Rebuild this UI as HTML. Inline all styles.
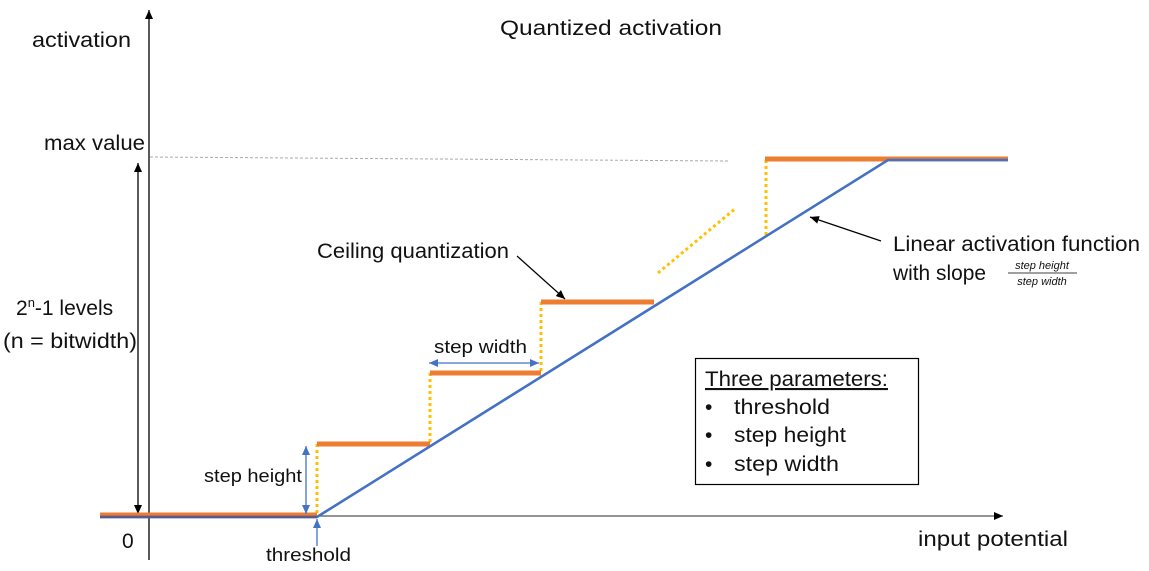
<!DOCTYPE html>
<html><head><meta charset="utf-8"><style>
html,body{margin:0;padding:0;background:#fff;}
svg{display:block;}
text{font-family:"Liberation Sans",sans-serif;fill:#111;}
</style></head><body>
<svg width="1149" height="571" viewBox="0 0 1149 571" xmlns="http://www.w3.org/2000/svg">
<defs>
<marker id="ak" markerWidth="10" markerHeight="10" refX="9" refY="5" orient="auto-start-reverse" markerUnits="userSpaceOnUse"><path d="M0,1 L9,5 L0,9 z" fill="#000"/></marker>
<marker id="ab" markerWidth="10" markerHeight="10" refX="9" refY="5" orient="auto-start-reverse" markerUnits="userSpaceOnUse"><path d="M0,1 L9,5 L0,9 z" fill="#4472c4"/></marker>
</defs>
<line x1="149" y1="560" x2="149" y2="10" stroke="#000" stroke-width="1.3" marker-end="url(#ak)"/>
<line x1="149" y1="516" x2="1003" y2="516" stroke="#555" stroke-width="1.3" marker-end="url(#ak)"/>
<line x1="150" y1="157" x2="728" y2="161" stroke="#aaa" stroke-width="1" stroke-dasharray="3,2"/>
<line x1="138" y1="163" x2="138" y2="514" stroke="#000" stroke-width="1.3" marker-start="url(#ak)" marker-end="url(#ak)"/>
<g stroke="#ffc000" stroke-width="3" stroke-dasharray="3,3">
<line x1="317" y1="444" x2="317" y2="516"/>
<line x1="430" y1="373" x2="430" y2="444"/>
<line x1="541" y1="302" x2="541" y2="373"/>
<line x1="766" y1="160" x2="766" y2="235"/>
<line x1="658" y1="273" x2="736" y2="208"/>
</g>
<g stroke="#ed7d31" stroke-width="5">
<line x1="100" y1="515" x2="317" y2="515"/>
<line x1="317" y1="444" x2="430" y2="444"/>
<line x1="430" y1="373" x2="541" y2="373"/>
<line x1="541" y1="302" x2="654" y2="302"/>
<line x1="765" y1="159" x2="1008" y2="159"/>
</g>
<polyline points="100,517 317,517 888,160 1008,160" fill="none" stroke="#4472c4" stroke-width="2.6"/>
<polyline points="100,517 317,517" fill="none" stroke="#5a5a8a" stroke-width="2.5"/>
<line x1="306" y1="446" x2="306" y2="514" stroke="#4472c4" stroke-width="1.3" marker-start="url(#ab)" marker-end="url(#ab)"/>
<line x1="317" y1="546" x2="317" y2="519" stroke="#4472c4" stroke-width="1.3" marker-end="url(#ab)"/>
<line x1="429" y1="363" x2="539" y2="363" stroke="#4472c4" stroke-width="1.3" marker-start="url(#ab)" marker-end="url(#ab)"/>
<line x1="517" y1="256" x2="565" y2="299" stroke="#000" stroke-width="1.2" marker-end="url(#ak)"/>
<line x1="881" y1="241" x2="810" y2="217" stroke="#000" stroke-width="1.2" marker-end="url(#ak)"/>
<text x="500" y="35" font-size="21" textLength="222" lengthAdjust="spacingAndGlyphs">Quantized activation</text>
<text x="32" y="47" font-size="21" textLength="99" lengthAdjust="spacingAndGlyphs">activation</text>
<text x="44" y="150" font-size="21" textLength="101" lengthAdjust="spacingAndGlyphs">max value</text>
<text x="16" y="315" font-size="21">2<tspan font-size="13" dy="-8">n</tspan><tspan dy="8">-1 levels</tspan></text>
<text x="3" y="348" font-size="21" textLength="134" lengthAdjust="spacingAndGlyphs">(n = bitwidth)</text>
<text x="122" y="548" font-size="21">0</text>
<text x="266" y="561" font-size="18" textLength="85" lengthAdjust="spacingAndGlyphs">threshold</text>
<text x="204" y="482" font-size="18" textLength="98" lengthAdjust="spacingAndGlyphs">step height</text>
<text x="434" y="353" font-size="18" textLength="93" lengthAdjust="spacingAndGlyphs">step width</text>
<text x="317" y="258" font-size="21" textLength="192" lengthAdjust="spacingAndGlyphs">Ceiling quantization</text>
<text x="893" y="251" font-size="21" textLength="247" lengthAdjust="spacingAndGlyphs">Linear activation function</text>
<text x="893" y="280" font-size="21" textLength="93" lengthAdjust="spacingAndGlyphs">with slope</text>
<text x="1042" y="269" font-size="11" font-style="italic" text-anchor="middle" font-family="Liberation Serif">step height</text>
<line x1="1008" y1="273" x2="1077" y2="273" stroke="#000" stroke-width="0.8"/>
<text x="1042" y="285" font-size="11" font-style="italic" text-anchor="middle" font-family="Liberation Serif">step width</text>
<text x="918" y="546" font-size="21" textLength="150" lengthAdjust="spacingAndGlyphs">input potential</text>
<rect x="695.5" y="358.5" width="223" height="126" fill="#fff" stroke="#000" stroke-width="1.2"/>
<text x="705" y="386" font-size="21" text-decoration="underline" textLength="183" lengthAdjust="spacingAndGlyphs">Three parameters:</text>
<text x="705" y="414" font-size="21">•</text><text x="734" y="414" font-size="21" textLength="96" lengthAdjust="spacingAndGlyphs">threshold</text>
<text x="705" y="442" font-size="21">•</text><text x="734" y="442" font-size="21" textLength="112" lengthAdjust="spacingAndGlyphs">step height</text>
<text x="705" y="471" font-size="21">•</text><text x="734" y="471" font-size="21" textLength="105" lengthAdjust="spacingAndGlyphs">step width</text>
</svg>
</body></html>
